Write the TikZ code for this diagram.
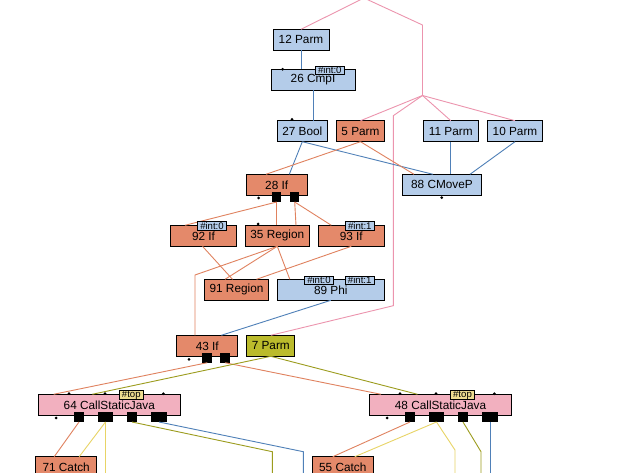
\documentclass[tikz,border=0pt]{standalone}
\usepackage{fontspec}
\setmainfont{Liberation Sans}
\usepackage{tikz}
\usetikzlibrary{positioning, calc}

\definecolor{datafill}{HTML}{B4CCE9}
\definecolor{ctrlfill}{HTML}{E4896A}
\definecolor{memfill}{HTML}{BBBB2C}
\definecolor{callfill}{HTML}{F2B0BF}
\definecolor{tagfill}{HTML}{EEDD90}
\definecolor{dataedge}{HTML}{4F80B8}
\definecolor{ctrledge}{HTML}{E0825F}
\definecolor{memedge}{HTML}{9C9C1E}
\definecolor{rootedge}{HTML}{EC94AE}
\definecolor{ioedge}{HTML}{E8D466}

\newcommand\graphfont{\fontsize{11.8}{13}\selectfont}
\newcommand\tagfont{\fontsize{9.6}{10}\selectfont}

\begin{document}
\begin{tikzpicture}[
  x=1pt, y=-1pt,
  op/.style={rectangle, draw, line width=1pt, minimum height=21pt, inner sep=1pt, outer sep=0pt, font=\graphfont},
  datanode/.style={op, fill=datafill},
  ctrlnode/.style={op, fill=ctrlfill},
  memnode/.style={op, fill=memfill},
  callnode/.style={op, fill=callfill},
  outsq/.style={rectangle, fill=black, inner sep=0pt, outer sep=0pt, minimum height=10pt, minimum width=10pt},
  inpin/.style={circle, fill=black, inner sep=0pt, minimum size=3pt},
  inttag/.style={rectangle, draw, fill=datafill, line width=0.8pt, inner sep=0.3pt, minimum width=29pt, minimum height=8.5pt, font=\tagfont},
  toptag/.style={inttag, fill=tagfill, minimum width=24pt},
  wire/.style={line width=0.9pt},
  dataline/.style={wire, dataedge},
  ctrlline/.style={wire, ctrledge},
  memline/.style={wire, memedge},
  rootline/.style={wire, rootedge},
  ioline/.style={wire, ioedge}
]
  \fill[white] (0,0) rectangle (622,473);
  \useasboundingbox (0,0) rectangle (622,473);
  \clip (0,0) rectangle (622,473);

  \node[datanode, minimum width=56pt] (p12) at (301,39.8) {12 Parm};
  \node[datanode, minimum width=84pt] (c26) at (313,79.8) {26 CmpI};
  \node[datanode, minimum width=50pt] (b27) at (302.3,131.2) {27 Bool};
  \node[ctrlnode, minimum width=47.6pt, right=9.4pt of b27] (p5) {5 Parm};
  \node[datanode, minimum width=55pt] (p11) at (450.8,131.2) {11 Parm};
  \node[datanode, minimum width=55.4pt, right=9pt of p11] (p10) {10 Parm};
  \node[datanode, minimum width=78.6pt] (m88) at (442,184.8) {88 CMoveP};
  \node[ctrlnode, minimum width=61.3pt] (i28) at (276.7,184.8) {28 If};
  \node[ctrlnode, minimum width=66.4pt] (i92) at (203.5,235.8) {92 If};
  \node[ctrlnode, minimum width=64pt, right=8.6pt of i92] (r35) {35 Region};
  \node[ctrlnode, minimum width=66pt, right=9pt of r35] (i93) {93 If};
  \node[ctrlnode, minimum width=64.4pt] (r91) at (236.5,289.8) {91 Region};
  \node[datanode, minimum width=107pt, right=8.6pt of r91] (f89) {89 Phi};
  \node[ctrlnode, minimum width=61.3pt] (i43) at (207.3,345.8) {43 If};
  \node[memnode, minimum width=48.3pt, right=8.7pt of i43] (p7) {7 Parm};
  \node[callnode, minimum width=142pt] (j64) at (109.3,404.8) {64 CallStaticJava};
  \node[callnode, minimum width=142.4pt] (j48) at (440.5,404.8) {48 CallStaticJava};
  \node[ctrlnode, minimum width=61pt] (k71) at (66.2,467.2) {71 Catch};
  \node[ctrlnode, minimum width=61pt] (k55) at (342.8,467.2) {55 Catch};

  \node[outsq, minimum width=9.3pt] (s28a) at (276.7,197) {};
  \node[outsq, minimum width=9.3pt] (s28b) at (294.7,197) {};
  \node[outsq] (s43a) at (207.3,357.7) {};
  \node[outsq] (s43b) at (225,357.7) {};
  \node[outsq] (s64a) at (79,417) {};
  \node[outsq, minimum width=15pt] (s64b) at (105.5,417) {};
  \node[outsq] (s64c) at (132,417) {};
  \node[outsq, minimum width=16pt] (s64d) at (159,417) {};
  \node[outsq] (s48a) at (410,417) {};
  \node[outsq, minimum width=15pt] (s48b) at (436.5,417) {};
  \node[outsq] (s48c) at (463,417) {};
  \node[outsq, minimum width=16pt] (s48d) at (490,417) {};

  \coordinate (root) at (364,-2);
  \coordinate (fork) at (422.5,95.5);
  \coordinate (o64b) at (105.5,480);
  \coordinate (o64c) at (272.3,480);
  \coordinate (o64d) at (303.3,480);
  \coordinate (o48b) at (455,480);
  \coordinate (o48c) at (481,480);
  \coordinate (o48d) at (490,480);

  \draw[rootline] (root) -- (p12.north);
  \draw[rootline] (root) -- (422.5,25) -- (fork);
  \draw[rootline] (fork) -- (p5.north);
  \draw[rootline] (fork) -- (p11.north);
  \draw[rootline] (fork) -- (p10.north);
  \draw[rootline] (fork) -- (393.3,115.7) -- (393.3,305.7) -- (p7.north);

  \draw[dataline] (p12.south) -- (p12.south |- c26.north);
  \draw[dataline] (c26.south) -- (c26.south |- b27.north);
  \draw[dataline] (b27.south) -- ([xshift=12.6pt]i28.north);
  \draw[dataline] (b27.south) -- ([xshift=-9pt]m88.north);
  \draw[dataline] (p11.south) -- (p11.south |- m88.north);
  \draw[dataline] (p10.south) -- ([xshift=28pt]m88.north);
  \draw[dataline] (f89.south) -- ([xshift=14pt]i43.north);

  \draw[ctrlline] (p5.south) -- ([xshift=-10.7pt]i28.north);
  \draw[ctrlline] (p5.south) -- ([xshift=-28pt]m88.north);
  \draw[ctrlline] (s28a.south) -- ([xshift=-18.5pt]i92.north);
  \draw[ctrlline] (s28a.south) -- (s28a.south |- r35.north);
  \draw[ctrlline] (s28b.south) -- ([xshift=18.7pt]r35.north);
  \draw[ctrlline] (s28b.south) -- ([xshift=-20pt]i93.north);
  \draw[ctrlline] ([xshift=-1pt]i92.south) -- ([xshift=-4pt]r91.north);
  \draw[ctrlline] (r35.south) -- ([xshift=-11.5pt]r91.north);
  \draw[ctrlline] (r35.south) -- ([xshift=-41pt]f89.north);
  \draw[ctrlline] (i93.south) -- ([xshift=20pt]r91.north);
  \draw[ctrlline] (r35.south) -- (195,275) -- ([xshift=-12.3pt]i43.north);

  \draw[ctrlline] (s43a.south) -- ([xshift=-55.7pt]j64.north);
  \draw[ctrlline] (s43b.south) -- ([xshift=-59.5pt]j48.north);
  \draw[memline] (p7.south) -- ([xshift=-17pt]j64.north);
  \draw[memline] (p7.south) -- ([xshift=-23pt]j48.north);

  \draw[ctrlline] (s64a.south) -- ([xshift=-12pt]k71.north);
  \draw[ioline] (s64b.south) -- ([xshift=13pt]k71.north);
  \draw[ioline] (s64b.south) -- (o64b);
  \draw[memline] (s64c.south) -- (272.3,451.7) -- (o64c);
  \draw[dataline] (s64d.south) -- (303.3,451.7) -- (o64d);

  \draw[ctrlline] (s48a.south) -- ([xshift=-10pt]k55.north);
  \draw[ioline] (s48b.south) -- ([xshift=12pt]k55.north);
  \draw[ioline] (s48b.south) -- (455,450) -- (o48b);
  \draw[memline] (s48c.south) -- (481,451.7) -- (o48c);
  \draw[dataline] (s48d.south) -- (o48d);

  \node[inttag] (t26) at (329.8,70.2) {\#int:0};
  \node[inttag] (t92) at (212,226) {\#int:0};
  \node[inttag] (t93) at (359.8,226) {\#int:1};
  \node[inttag] (t89a) at (319,280.2) {\#int:0};
  \node[inttag] (t89b) at (359.7,280.2) {\#int:1};
  \node[toptag] (t64) at (131.3,395) {\#top};
  \node[toptag] (t48) at (462.5,395) {\#top};

  \node[inpin] (d26) at (282.7,69.3) {};
  \node[inpin] (d27) at (292,119.5) {};
  \node[inpin] (d88) at (441.7,197.7) {};
  \node[inpin] (d28) at (258.7,198) {};
  \node[inpin] (d35) at (258,224) {};
  \node[inpin] (d43) at (189,359.3) {};
  \node[inpin] (d64a) at (69,393.7) {};
  \node[inpin] (d64b) at (105,393.7) {};
  \node[inpin] (d64c) at (163.3,393.7) {};
  \node[inpin] (d64d) at (56,418) {};
  \node[inpin] (d48a) at (400,393.7) {};
  \node[inpin] (d48b) at (436,393.7) {};
  \node[inpin] (d48c) at (494.3,393.7) {};
  \node[inpin] (d48d) at (387,418) {};
\end{tikzpicture}
\end{document}
